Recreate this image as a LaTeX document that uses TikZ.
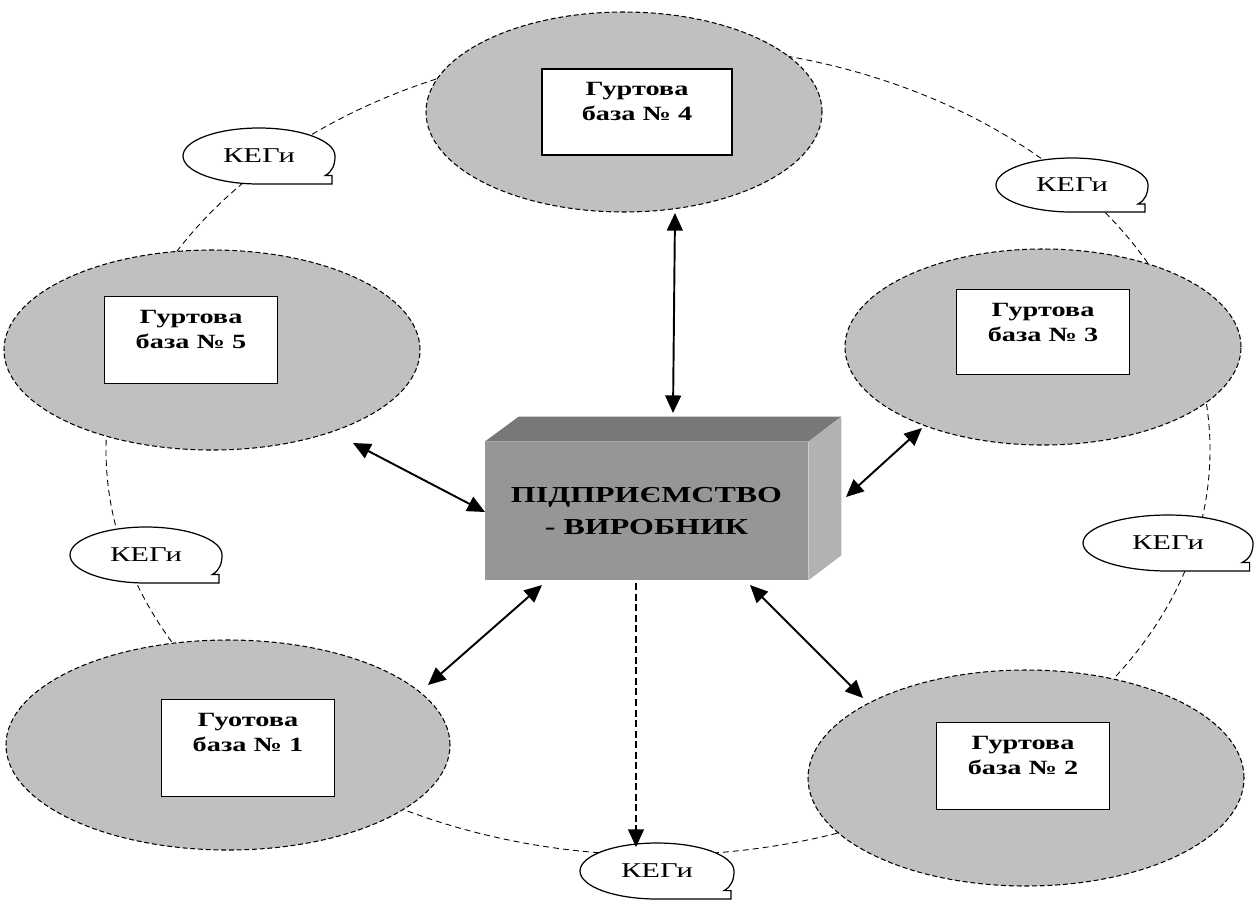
\documentclass[tikz,border=0pt]{standalone}
\usepackage{fontspec}
\setmainfont{Liberation Serif}
\newfontfamily\widefont[FakeStretch=1.4]{Liberation Serif}
\newfontfamily\kegifont[FakeStretch=1.45]{Liberation Serif}
\usetikzlibrary{arrows.meta,shapes.geometric,calc}
\definecolor{ellgray}{RGB}{192,192,192}
\definecolor{frontgray}{RGB}{150,150,150}
\definecolor{topgray}{RGB}{120,120,120}
\definecolor{sidegray}{RGB}{178,178,178}
\newcommand{\kegibubble}[5]{%
  \begin{scope}[shift={(#2,-#3)}]
    \draw[bubble] ({0.87*#4},{-0.7*#5}) .. controls ({0.97*#4},{-0.55*#5}) and ({#4},{-0.3*#5}) .. ({#4},0)
      arc[start angle=0,end angle=270,x radius={#4*0.02cm},y radius={#5*0.02cm}]
      -- ({0.96*#4},{-#5}) -- ({0.96*#4},{-0.7*#5}) -- cycle;
    \node[kegi] (#1) at (0,0) {КЕГи};
  \end{scope}}
\begin{document}
\begin{tikzpicture}[x=0.02cm,y=0.02cm,
  base/.style 2 args={ellipse, draw, fill=ellgray, line width=0.6pt, dash pattern=on 2.8pt off 1.6pt,
    inner sep=0pt, minimum width={#1*0.02cm}, minimum height={#2*0.02cm}},
  rbox/.style 2 args={rectangle, draw, fill=white, line width=0.7pt, inner sep=0pt,
    minimum width={#1*0.02cm}, minimum height={#2*0.02cm}},
  btext/.style={align=center, inner sep=0pt, anchor=north, font=\widefont\bfseries\fontsize{11.5}{14.2}\selectfont},
  bubble/.style={draw, fill=white, line width=0.7pt},
  kegi/.style={inner sep=0pt, font=\kegifont\fontsize{12}{13}\selectfont},
  bigcircle/.style={draw, line width=0.5pt, dash pattern=on 3.4pt off 2.3pt},
  link/.style={line width=1.1pt, {Triangle[length=10pt,width=9pt]}-{Triangle[length=10pt,width=9pt]}},
  dlink/.style={line width=0.8pt, dash pattern=on 4pt off 2pt, -{Triangle[length=10pt,width=9pt]}},
  boxfront/.style={rectangle, fill=frontgray, inner sep=0pt, minimum width={323*0.02cm}, minimum height={138*0.02cm},
    align=center, font=\widefont\bfseries\fontsize{13}{18.1}\selectfont}
]
\useasboundingbox (0,0) rectangle (1257,-900);
% big dashed ring
\draw[bigcircle] (658,-450) ellipse [x radius={552*0.02cm}, y radius={405*0.02cm}];
% wholesale bases
\node[base={396}{200}] (e4) at (624,-112) {};
\node[base={416}{200}] (e5) at (212,-350) {};
\node[base={396}{196}] (e3) at (1043,-347) {};
\node[base={444}{210}] (e1) at (228,-745) {};
\node[base={436}{216}] (e2) at (1026,-778) {};
% inner boxes
\node[rbox={190}{86}] (r4) at (637,-112) {};
\node[rbox={173}{87}] (r5) at (191,-340) {};
\node[rbox={173}{85}] (r3) at (1043,-332) {};
\node[rbox={173}{97}] (r1) at (248,-748) {};
\node[rbox={173}{87}] (r2) at (1023,-766) {};
\node[btext] (t4) at ($(r4.north)+(0,-14)$) {Гуртова\\база № 4};
\node[btext] (t5) at ($(r5.north)+(0,-14)$) {Гуртова\\база № 5};
\node[btext] (t3) at ($(r3.north)+(0,-14)$) {Гуртова\\база № 3};
\node[btext] (t1) at ($(r1.north)+(0,-14)$) {Гуотова\\база № 1};
\node[btext] (t2) at ($(r2.north)+(0,-14)$) {Гуртова\\база № 2};
% callouts
\kegibubble{k1}{259}{156}{76}{28}
\kegibubble{k2}{1072}{185}{76}{27}
\kegibubble{k3}{1168}{543}{85}{28}
\kegibubble{k5}{146}{555}{76}{28}
\kegibubble{k6}{657}{871}{77}{28}
% producer block
\node[boxfront] (box) at (646.5,-511) {ПІДПРИЄМСТВО\\- ВИРОБНИК};
\fill[topgray] (box.north west) -- ++(34,25) -- ([shift={(33,25)}]box.north east) -- (box.north east) -- cycle;
\fill[sidegray] (box.north east) -- ++(33,25) -- ([shift={(33,25)}]box.south east) -- (box.south east) -- cycle;
% arrow end points
\coordinate (p4a) at (675,-213); \coordinate (p4b) at (673,-413);
\coordinate (p5a) at (353,-443); \coordinate (p5b) at (485,-512);
\coordinate (p3a) at (922,-428); \coordinate (p3b) at (846,-497);
\coordinate (p1a) at (428,-685); \coordinate (p1b) at (542,-585);
\coordinate (p2a) at (863,-698); \coordinate (p2b) at (750,-585);
\coordinate (p6a) at (636,-583); \coordinate (p6b) at (636,-847);
\draw[link] (p4a) -- (p4b);
\draw[link] (p5a) -- (p5b);
\draw[link] (p3a) -- (p3b);
\draw[link] (p1a) -- (p1b);
\draw[link] (p2a) -- (p2b);
\draw[dlink] (p6a) -- (p6b);
\end{tikzpicture}
\end{document}
